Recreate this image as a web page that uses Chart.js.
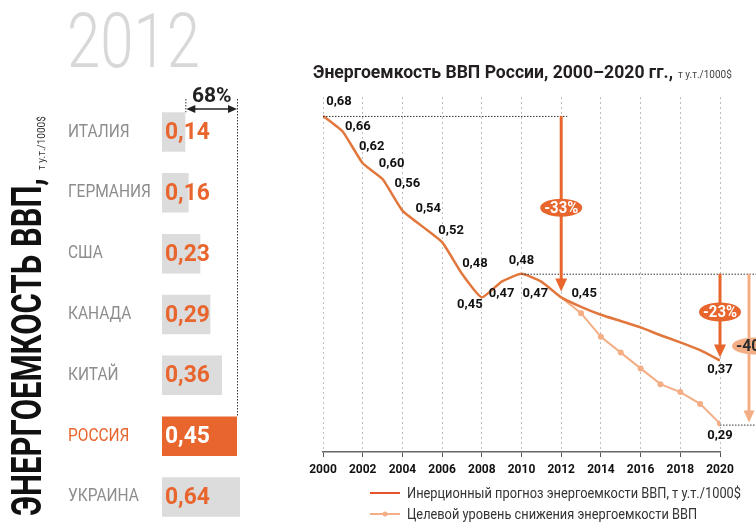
<!DOCTYPE html>
<html>
<head>
<meta charset="utf-8">
<script src="https://cdn.jsdelivr.net/npm/chart.js@4.4.1/dist/chart.umd.min.js"></script>
<style>
body { margin: 0; background: #fff; }
#left { position: absolute; left: 0; top: 0; width: 260px; height: 528px; }
#right { position: absolute; left: 260px; top: 0; width: 496px; height: 528px; }
</style>
</head>
<body>
<div id="left"><canvas id="countries"></canvas></div>
<div id="right"><canvas id="russia"></canvas></div>
<script>
// 2012, energy intensity of GDP by country
const countries = ['ИТАЛИЯ', 'ГЕРМАНИЯ', 'США', 'КАНАДА', 'КИТАЙ', 'РОССИЯ', 'УКРАИНА'];
const intensity2012 = [0.14, 0.16, 0.23, 0.29, 0.36, 0.45, 0.64];

// Russia 2000-2020
const years = [2000, 2001, 2002, 2003, 2004, 2005, 2006, 2007, 2008, 2009, 2010,
  2011, 2012, 2013, 2014, 2015, 2016, 2017, 2018, 2019, 2020];
const inertial = [0.68, 0.66, 0.62, 0.60, 0.56, 0.54, 0.52, 0.48, 0.45, 0.47, 0.48,
  0.47, 0.45, 0.438, 0.428, 0.42, 0.412, 0.402, 0.393, 0.383, 0.37];
const target = [null, null, null, null, null, null, null, null, null, null, null,
  null, 0.45, 0.43, 0.40, 0.38, 0.36, 0.34, 0.33, 0.315, 0.29];
const labelledYears = [2000, 2001, 2002, 2003, 2004, 2005, 2006, 2007, 2008, 2009, 2010, 2011, 2012, 2020];

const ORANGE = '#e8662e';
const LINE = '#e2773d';
const LIGHT = '#f3ae85';
const FONT = 'Roboto, "Liberation Sans", sans-serif';

const fmt = v => v.toFixed(2).replace('.', ',');

// draws text squeezed horizontally, like the condensed face of the original
function squeeze(ctx, text, x, y, ratio) {
  const w = ctx.measureText(text).width;
  ctx.fillText(text, x, y, w * ratio);
}

function arrowDown(ctx, x, y1, y2, color, width, headW, headH) {
  ctx.save();
  ctx.strokeStyle = color;
  ctx.fillStyle = color;
  ctx.lineWidth = width;
  ctx.beginPath();
  ctx.moveTo(x, y1);
  ctx.lineTo(x, y2 - headH + 1);
  ctx.stroke();
  ctx.beginPath();
  ctx.moveTo(x - headW / 2, y2 - headH);
  ctx.lineTo(x + headW / 2, y2 - headH);
  ctx.lineTo(x, y2);
  ctx.closePath();
  ctx.fill();
  ctx.restore();
}

function pill(ctx, cx, cy, w, h, fill, text, color) {
  ctx.save();
  ctx.fillStyle = fill;
  ctx.beginPath();
  ctx.ellipse(cx, cy, w / 2, h / 2, 0, 0, Math.PI * 2);
  ctx.fill();
  ctx.fillStyle = color;
  ctx.font = 'bold 16px ' + FONT;
  ctx.textAlign = 'center';
  ctx.textBaseline = 'middle';
  ctx.fillText(text, cx, cy + 1, w - 8);
  ctx.restore();
}

function dotted(ctx, x1, y1, x2, y2) {
  ctx.save();
  ctx.strokeStyle = '#333';
  ctx.lineWidth = 1;
  ctx.setLineDash([1.5, 1.5]);
  ctx.beginPath();
  ctx.moveTo(x1, y1);
  ctx.lineTo(x2, y2);
  ctx.stroke();
  ctx.restore();
}

const leftDecor = {
  id: 'leftDecor',
  afterDatasetsDraw(chart) {
    const ctx = chart.ctx;
    const bars = chart.getDatasetMeta(0).data;
    const xs = chart.scales.x;
    ctx.save();

    ctx.fillStyle = '#d8d8d8';
    ctx.font = '300 76px ' + FONT;
    ctx.textBaseline = 'alphabetic';
    ctx.fillText('2012', 67, 67, 133);

    bars.forEach((bar, i) => {
      ctx.textBaseline = 'middle';
      ctx.fillStyle = i === 5 ? ORANGE : '#8d8d8d';
      ctx.font = '18px ' + FONT;
      squeeze(ctx, countries[i], 68, bar.y, 0.86);
      ctx.fillStyle = i === 5 ? '#fff' : ORANGE;
      ctx.font = 'bold 24px ' + FONT;
      squeeze(ctx, fmt(intensity2012[i]), 165, bar.y + 1, 0.95);
    });

    // gap between Italy and Russia
    const xa = xs.getPixelForValue(intensity2012[0]);
    const xb = xs.getPixelForValue(intensity2012[5]);
    dotted(ctx, xa + 0.5, 99, xa + 0.5, bars[0].y - bars[0].height / 2);
    dotted(ctx, xb + 0.5, 99, xb + 0.5, bars[5].y - bars[5].height / 2);
    ctx.strokeStyle = '#222';
    ctx.fillStyle = '#222';
    ctx.lineWidth = 1.3;
    ctx.beginPath();
    ctx.moveTo(xa + 4, 109);
    ctx.lineTo(xb - 4, 109);
    ctx.stroke();
    [[xa + 1, 1], [xb, -1]].forEach(([x, d]) => {
      ctx.beginPath();
      ctx.moveTo(x, 109);
      ctx.lineTo(x + 9 * d, 105);
      ctx.lineTo(x + 9 * d, 113);
      ctx.closePath();
      ctx.fill();
    });
    ctx.font = 'bold 21px ' + FONT;
    ctx.textBaseline = 'alphabetic';
    ctx.textAlign = 'left';
    squeeze(ctx, '68%', 192, 102, 1.0);

    // rotated axis title
    ctx.save();
    ctx.translate(41, 516);
    ctx.rotate(-Math.PI / 2);
    ctx.fillStyle = '#111';
    ctx.font = 'bold 42px ' + FONT;
    ctx.fillText('ЭНЕРГОЕМКОСТЬ ВВП,', 0, 0, 338);
    ctx.restore();
    ctx.save();
    ctx.translate(45, 170);
    ctx.rotate(-Math.PI / 2);
    ctx.fillStyle = '#333';
    ctx.font = '10px ' + FONT;
    ctx.fillText('т у.т./1000$', 0, 0, 54);
    ctx.restore();

    ctx.restore();
  }
};

new Chart(document.getElementById('countries'), {
  type: 'bar',
  data: {
    labels: countries,
    datasets: [{
      data: intensity2012,
      backgroundColor: countries.map((c, i) => i === 5 ? ORANGE : '#dcdcdc'),
      borderWidth: 0,
      barPercentage: 0.65,
      categoryPercentage: 1,
      clip: 0
    }]
  },
  options: {
    indexAxis: 'y',
    responsive: true,
    maintainAspectRatio: false,
    animation: false,
    layout: { padding: { left: 162, right: 20, top: 101.6, bottom: 0.6 } },
    scales: {
      x: { display: false, min: 0, max: 0.468 },
      y: { display: false }
    },
    plugins: { legend: { display: false }, tooltip: { enabled: false } }
  },
  plugins: [leftDecor]
});

// label placement around the points (text centre relative to point)
const labelOffsets = {
  2000: [16, -14], 2001: [15, -5], 2002: [9, -17], 2003: [9, -15], 2004: [5, -27],
  2005: [6, -18], 2006: [9, -11], 2007: [13, -10], 2008: [-12, 7], 2009: [0, 12],
  2010: [0, -13], 2011: [-6, 12], 2012: [23, -4], 2020: [0, 9]
};

const rightDecor = {
  id: 'rightDecor',
  afterDatasetsDraw(chart) {
    const ctx = chart.ctx;
    const xs = chart.scales.x;
    const ys = chart.scales.y;
    const X = v => xs.getPixelForValue(v);
    const Y = v => ys.getPixelForValue(v);
    ctx.save();

    // title
    ctx.fillStyle = '#231f20';
    ctx.textBaseline = 'alphabetic';
    ctx.font = 'bold 18px ' + FONT;
    const title = 'Энергоемкость ВВП России, 2000–2020 гг.,';
    const tw = Math.min(ctx.measureText(title).width, 360);
    ctx.fillText(title, 53, 78, 360);
    ctx.fillStyle = '#444';
    ctx.font = '10px ' + FONT;
    ctx.fillText('т у.т./1000$', 53 + tw + 5, 78, 65);

    // reference levels
    const i2010 = years.indexOf(2010);
    const i2012 = years.indexOf(2012);
    const i2020 = years.indexOf(2020);
    dotted(ctx, X(2000), Y(inertial[0]) + 0.5, X(2012) + 6, Y(inertial[0]) + 0.5);
    dotted(ctx, X(2010), Y(inertial[i2010]) + 0.5, chart.width, Y(inertial[i2010]) + 0.5);
    dotted(ctx, X(2020), Y(target[i2020]) + 1.5, chart.width, Y(target[i2020]) + 1.5);

    // reductions
    const x12 = X(2012), x20 = X(2020);
    arrowDown(ctx, x12, Y(inertial[0]), Y(inertial[i2012]) - 6, ORANGE, 3, 12, 13);
    pill(ctx, x12, (Y(inertial[0]) + Y(inertial[i2012])) / 2 + 1, 42, 18, ORANGE, '-33%', '#fff');
    arrowDown(ctx, x20, Y(inertial[i2010]), Y(inertial[i2020]) - 3, ORANGE, 3, 12, 13);
    pill(ctx, x20, 312, 42, 19, ORANGE, '-23%', '#fff');
    arrowDown(ctx, x20 + 29, Y(inertial[i2010]), Y(target[i2020]) - 1, LIGHT, 3, 11, 12);
    pill(ctx, x20 + 34, 346, 44, 17, LIGHT, '-40%', '#2a2a2a');

    // value labels
    ctx.fillStyle = '#111';
    ctx.font = 'bold 13px ' + FONT;
    ctx.textAlign = 'center';
    ctx.textBaseline = 'middle';
    const pts = chart.getDatasetMeta(0).data;
    labelledYears.forEach(yr => {
      const i = years.indexOf(yr);
      const [dx, dy] = labelOffsets[yr];
      ctx.fillText(fmt(inertial[i]), pts[i].x + dx, pts[i].y + dy);
    });
    const tp = chart.getDatasetMeta(1).data[i2020];
    ctx.fillText(fmt(target[i2020]), tp.x, tp.y + 12);

    // legend
    ctx.textAlign = 'left';
    ctx.textBaseline = 'alphabetic';
    ctx.font = '14px ' + FONT;
    ctx.lineWidth = 2;
    ctx.strokeStyle = '#e8542a';
    ctx.beginPath(); ctx.moveTo(110, 493); ctx.lineTo(140, 493); ctx.stroke();
    ctx.fillStyle = '#333';
    ctx.fillText('Инерционный прогноз энергоемкости ВВП, т у.т./1000$', 147, 498, 334);
    ctx.strokeStyle = LIGHT;
    ctx.beginPath(); ctx.moveTo(110, 514); ctx.lineTo(140, 514); ctx.stroke();
    ctx.fillStyle = LIGHT;
    ctx.beginPath(); ctx.arc(125, 514, 2.5, 0, Math.PI * 2); ctx.fill();
    ctx.fillStyle = '#333';
    ctx.fillText('Целевой уровень снижения энергоемкости ВВП', 147, 519, 290);

    ctx.restore();
  }
};

new Chart(document.getElementById('russia'), {
  type: 'line',
  data: {
    datasets: [{
      label: 'Инерционный прогноз энергоемкости ВВП, т у.т./1000$',
      data: years.map((yr, i) => ({ x: yr, y: inertial[i] })),
      borderColor: LINE,
      borderWidth: 2.5,
      pointRadius: 0,
      tension: 0.15
    }, {
      label: 'Целевой уровень снижения энергоемкости ВВП',
      data: years.map((yr, i) => ({ x: yr, y: target[i] })),
      borderColor: LIGHT,
      backgroundColor: LIGHT,
      borderWidth: 2,
      pointRadius: ctx => ctx.dataIndex === 12 ? 0 : 3,
      pointBorderWidth: 0,
      tension: 0
    }]
  },
  options: {
    responsive: true,
    maintainAspectRatio: false,
    animation: false,
    layout: { padding: { left: 63, right: 36, top: 97, bottom: 0 } },
    scales: {
      x: {
        type: 'linear',
        min: 2000,
        max: 2020,
        afterFit: s => { s.height = 76; },
        ticks: {
          stepSize: 2,
          padding: 6,
          color: '#111',
          font: { family: FONT, size: 12, weight: 'bold' },
          callback: v => String(v)
        },
        grid: { color: '#bdbdbd', tickColor: '#555', tickLength: 5, lineWidth: 1 },
        border: { display: true, color: '#666', width: 1.5, dash: [2, 3] }
      },
      y: { display: false, min: 0.254, max: 0.704 }
    },
    plugins: { legend: { display: false }, tooltip: { enabled: false } }
  },
  plugins: [rightDecor]
});
</script>
</body>
</html>
